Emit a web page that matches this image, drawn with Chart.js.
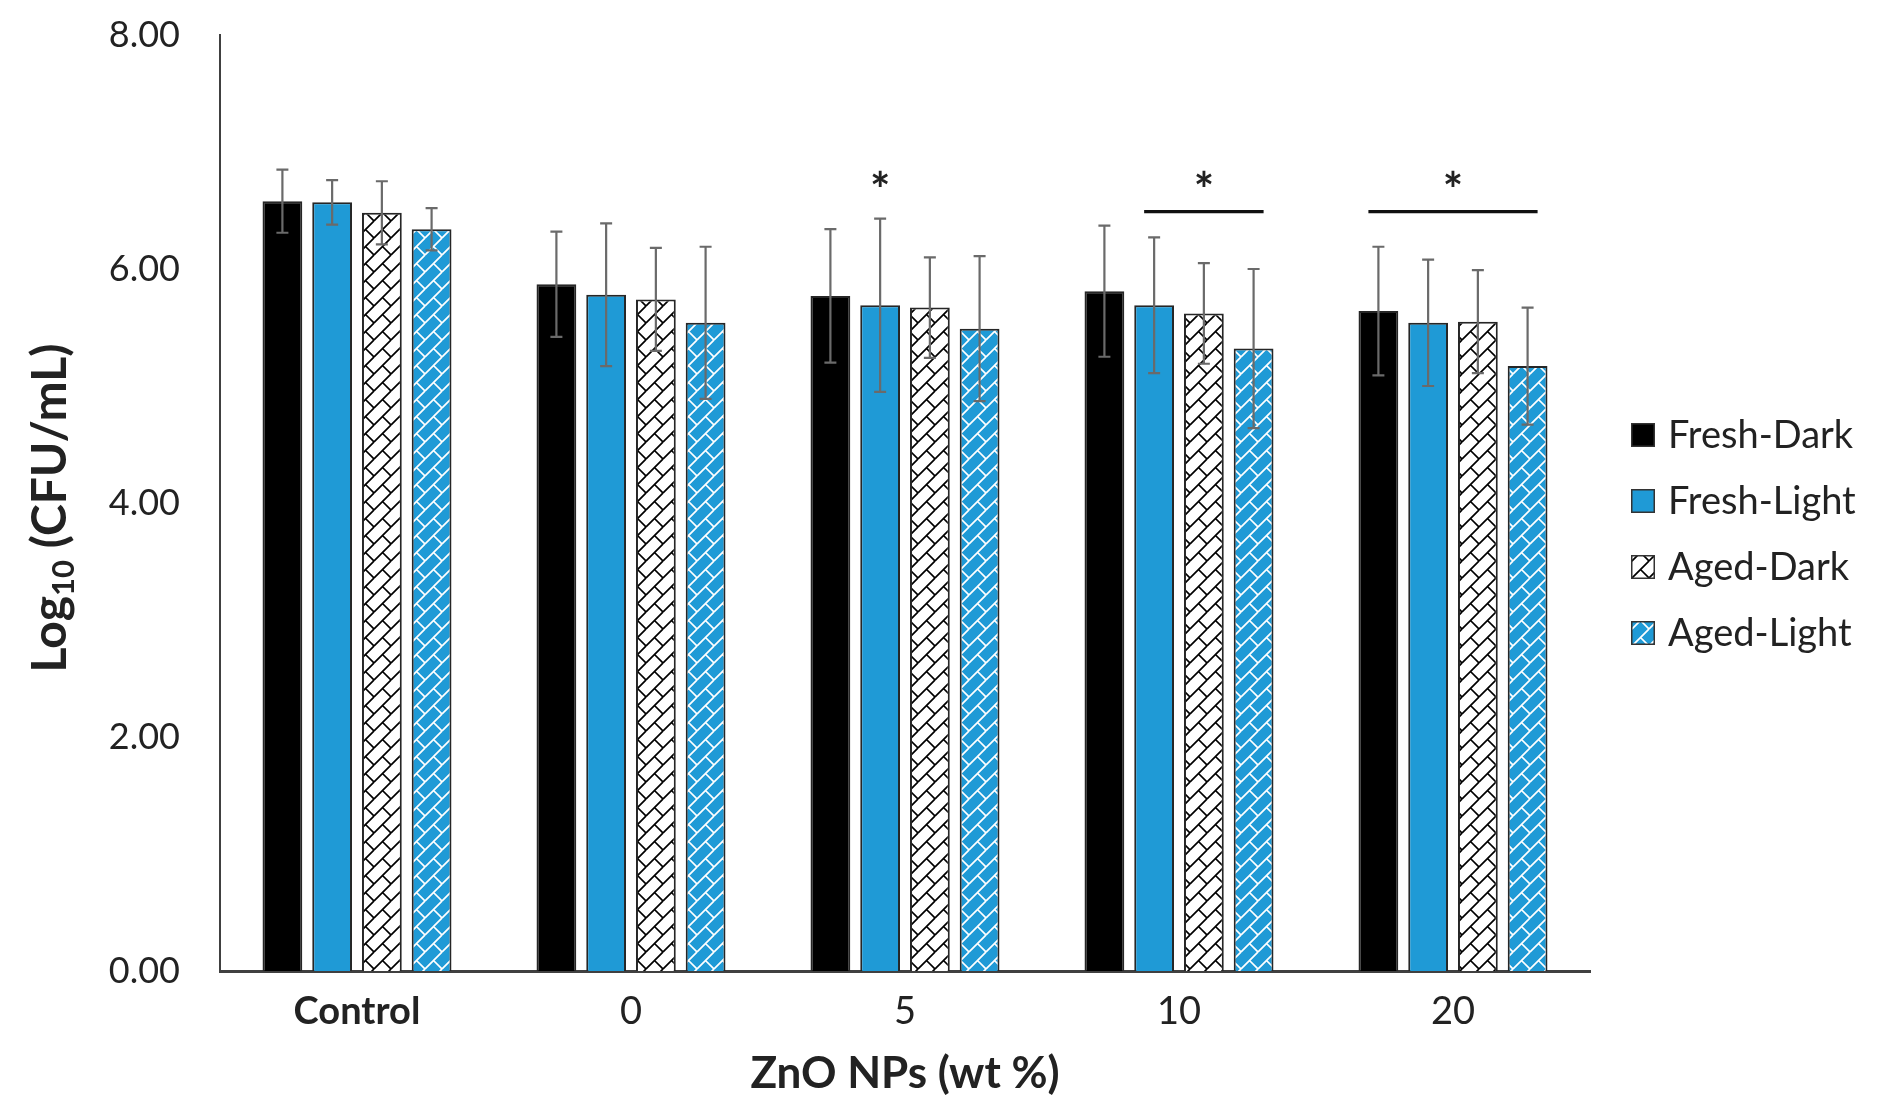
<!DOCTYPE html>
<html><head><meta charset="utf-8">
<script src="https://cdn.jsdelivr.net/npm/chart.js@4.4.1/dist/chart.umd.min.js"></script>
<style>html,body{margin:0;padding:0;background:#fff;} #wrap{width:1877px;height:1114px;position:relative;}</style>
</head><body><div id="wrap"><canvas id="c"></canvas></div>
<script>
// ---- data ----
const categories = ['Control', '0', '5', '10', '20'];
const seriesNames = ['Fresh-Dark', 'Fresh-Light', 'Aged-Dark', 'Aged-Light'];
const freshDark = [6.58, 5.87, 5.77, 5.81, 5.64];
const freshDarkErr = [0.27, 0.45, 0.57, 0.56, 0.55];
const freshLight = [6.57, 5.78, 5.69, 5.69, 5.54];
const freshLightErr = [0.19, 0.61, 0.74, 0.58, 0.54];
const agedDark = [6.48, 5.74, 5.67, 5.62, 5.55];
const agedDarkErr = [0.27, 0.44, 0.43, 0.43, 0.44];
const agedLight = [6.34, 5.54, 5.49, 5.32, 5.17];
const agedLightErr = [0.18, 0.65, 0.62, 0.68, 0.50];
const yTickLabels = ['0.00', '2.00', '4.00', '6.00', '8.00'];
// significance marks: star above one bar, brackets over a range of bars
const sigStars = [{ cat: 2, series: 1, value: 6.74 }];
const sigBrackets = [
  { cat: 3, from: 1, to: 3, value: 6.49, starValue: 6.74 },
  { cat: 4, from: 0, to: 3, value: 6.49, starValue: 6.74 }
];

// ---- styles ----
const BLUE = '#1f9ad6';
const FONT = 'Lato';
const TEXT = '#222222';

function brickPattern(bg, fg) {
  const T = 17;
  const c = document.createElement('canvas');
  c.width = T; c.height = T;
  const g = c.getContext('2d');
  g.fillStyle = bg; g.fillRect(0, 0, T, T);
  g.strokeStyle = fg; g.lineWidth = 1.7; g.lineCap = 'butt';
  for (let ox = -T; ox <= T; ox += T) {
    for (let oy = -T; oy <= T; oy += T) {
      g.beginPath();
      g.moveTo(ox + 0, oy + T); g.lineTo(ox + T, oy + 0);
      g.moveTo(ox + T / 2, oy + T / 2); g.lineTo(ox + T, oy + T);
      g.stroke();
    }
  }
  return g.createPattern(c, 'repeat');
}

const errs = [freshDarkErr, freshLightErr, agedDarkErr, agedLightErr];

const errorBarPlugin = {
  id: 'errorBars',
  afterDatasetsDraw(chart) {
    const ctx = chart.ctx, y = chart.scales.y;
    ctx.save();
    ctx.strokeStyle = '#6a6a6a'; ctx.lineWidth = 2.2;
    chart.data.datasets.forEach((ds, i) => {
      const meta = chart.getDatasetMeta(i);
      meta.data.forEach((bar, j) => {
        const v = ds.data[j], e = errs[i][j];
        const yt = y.getPixelForValue(v + e), yb = y.getPixelForValue(v - e);
        ctx.beginPath();
        ctx.moveTo(bar.x, yt); ctx.lineTo(bar.x, yb);
        ctx.moveTo(bar.x - 6, yt); ctx.lineTo(bar.x + 6, yt);
        ctx.moveTo(bar.x - 6, yb); ctx.lineTo(bar.x + 6, yb);
        ctx.stroke();
      });
    });
    ctx.restore();
  }
};

function drawStar(ctx, x, yPix) {
  ctx.save();
  ctx.fillStyle = TEXT;
  ctx.font = 'bold 48px ' + FONT;
  ctx.textAlign = 'center';
  ctx.textBaseline = 'middle';
  ctx.fillText('*', x, yPix + 9);
  ctx.restore();
}

const sigPlugin = {
  id: 'sig',
  afterDraw(chart) {
    const ctx = chart.ctx, y = chart.scales.y;
    sigStars.forEach(s => {
      const bar = chart.getDatasetMeta(s.series).data[s.cat];
      drawStar(ctx, bar.x, y.getPixelForValue(s.value));
    });
    sigBrackets.forEach(b => {
      const x1 = chart.getDatasetMeta(b.from).data[b.cat].x - 10;
      const x2 = chart.getDatasetMeta(b.to).data[b.cat].x + 10;
      const yl = y.getPixelForValue(b.value);
      ctx.save();
      ctx.strokeStyle = '#111'; ctx.lineWidth = 3.2;
      ctx.beginPath(); ctx.moveTo(x1, yl); ctx.lineTo(x2, yl); ctx.stroke();
      ctx.restore();
      drawStar(ctx, (x1 + x2) / 2, y.getPixelForValue(b.starValue));
    });
  }
};

const legendPlugin = {
  id: 'customLegend',
  afterDraw(chart) {
    const ctx = chart.ctx;
    const left = chart.chartArea.right + 41;
    const top = 435, step = 66, box = 24;
    ctx.save();
    chart.data.datasets.forEach((ds, i) => {
      const cy = top + i * step;
      ctx.fillStyle = ds.backgroundColor;
      ctx.fillRect(left, cy - box / 2, box, box);
      ctx.strokeStyle = '#333'; ctx.lineWidth = 1.5;
      ctx.strokeRect(left + 0.75, cy - box / 2 + 0.75, box - 1.5, box - 1.5);
      ctx.fillStyle = TEXT;
      ctx.font = '38px ' + FONT;
      ctx.textAlign = 'left'; ctx.textBaseline = 'middle';
      ctx.fillText(ds.label, left + box + 13, cy + 1);
    });
    ctx.restore();
  }
};

const yTitlePlugin = {
  id: 'yTitle',
  afterDraw(chart) {
    const ctx = chart.ctx;
    const cx = 50, cy = 508;
    const big = 'bold 48px ' + FONT, small = 'bold 31px ' + FONT;
    ctx.save();
    ctx.fillStyle = TEXT;
    ctx.translate(cx, cy);
    ctx.rotate(-Math.PI / 2);
    ctx.textBaseline = 'alphabetic';
    ctx.font = big; const w1 = ctx.measureText('Log').width;
    ctx.font = small; const w2 = ctx.measureText('10').width;
    ctx.font = big; const w3 = ctx.measureText(' (CFU/mL)').width;
    let x = -(w1 + w2 + w3) / 2;
    const base = 16;
    ctx.font = big; ctx.fillText('Log', x, base); x += w1;
    ctx.font = small; ctx.fillText('10', x, base + 8); x += w2;
    ctx.font = big; ctx.fillText(' (CFU/mL)', x, base);
    ctx.restore();
  }
};

const datasets = [
  { label: seriesNames[0], data: freshDark, backgroundColor: '#000000' },
  { label: seriesNames[1], data: freshLight, backgroundColor: BLUE },
  { label: seriesNames[2], data: agedDark, backgroundColor: brickPattern('#ffffff', '#000000') },
  { label: seriesNames[3], data: agedLight, backgroundColor: brickPattern(BLUE, '#ffffff') }
].map(d => Object.assign(d, {
  borderColor: '#262626', borderWidth: 2, borderSkipped: 'start',
  categoryPercentage: 0.726, barPercentage: 0.8
}));

new Chart(document.getElementById('c'), {
  type: 'bar',
  data: { labels: categories, datasets },
  options: {
    responsive: true, maintainAspectRatio: false, devicePixelRatio: 1,
    animation: false,
    layout: { padding: { top: 35, right: 287, bottom: 0, left: 0 } },
    plugins: { legend: { display: false }, tooltip: { enabled: false } },
    scales: {
      x: {
        grid: { display: false, drawTicks: false },
        border: { display: true, color: '#404040', width: 3 },
        ticks: {
          padding: 18, color: TEXT,
          font: (c) => ({ family: FONT, size: 38, weight: c.index === 0 ? 'bold' : 'normal' })
        },
        title: { display: true, text: 'ZnO NPs (wt %)', color: TEXT,
          font: { family: FONT, size: 44, weight: 'bold' }, padding: { top: 0, bottom: 14 } },
        afterFit(s) { s.height = 143; }
      },
      y: {
        min: 0, max: 8,
        grid: { display: false, drawTicks: false },
        border: { display: true, color: '#404040', width: 2 },
        ticks: { stepSize: 2, padding: 40, color: TEXT, font: { family: FONT, size: 36 },
          callback: (v) => yTickLabels[Math.round(v / 2)] },
        afterFit(s) { s.width = 220; s.paddingTop = 20; s.paddingBottom = 20; }
      }
    }
  },
  plugins: [errorBarPlugin, sigPlugin, legendPlugin, yTitlePlugin]
});
</script></body></html>
